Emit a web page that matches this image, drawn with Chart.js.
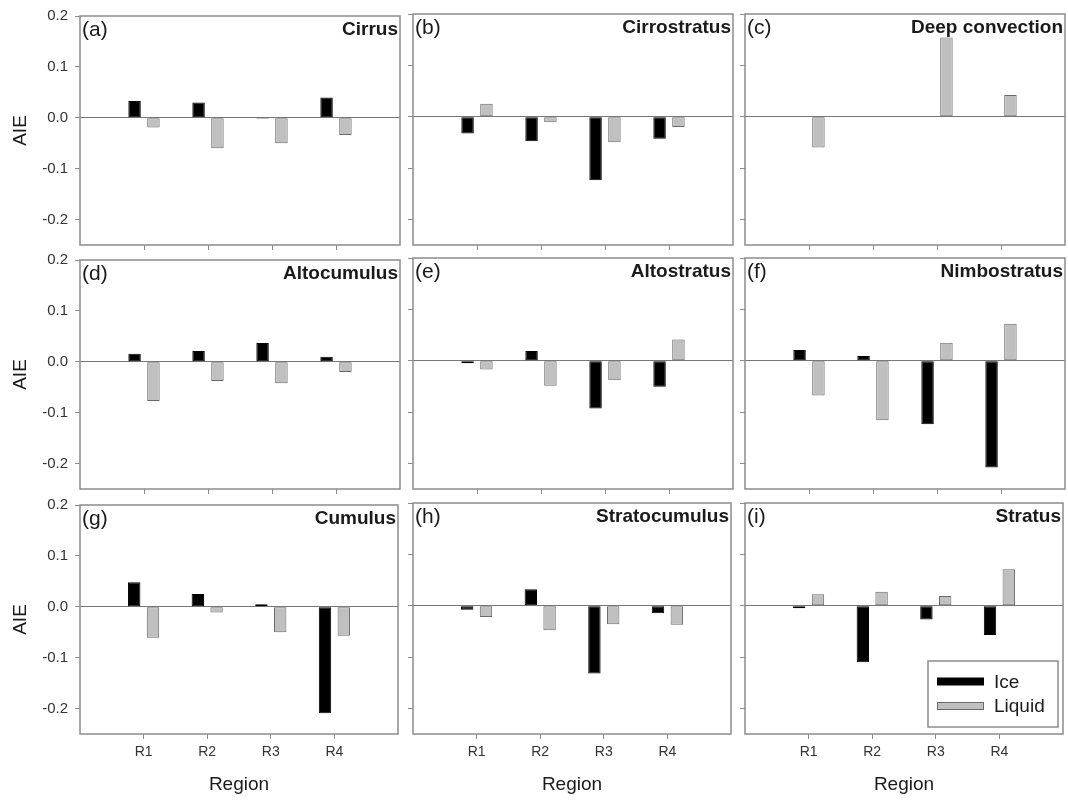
<!DOCTYPE html>
<html lang="en">
<head>
<meta charset="UTF-8">
<title>AIE by cloud type</title>
<script src="https://cdn.jsdelivr.net/npm/chart.js@4.4.0/dist/chart.umd.min.js"></script>
<style>
  body { margin: 0; background: #fff; }
  #wrap { position: relative; width: 1068px; height: 800px; }
  #wrap canvas { position: absolute; }
</style>
</head>
<body>
<div id="wrap"></div>
<script>
const regions = ['R1', 'R2', 'R3', 'R4'];
const panelTags = ['(a)', '(b)', '(c)', '(d)', '(e)', '(f)', '(g)', '(h)', '(i)'];
const cloudTypes = ['Cirrus', 'Cirrostratus', 'Deep convection',
                    'Altocumulus', 'Altostratus', 'Nimbostratus',
                    'Cumulus', 'Stratocumulus', 'Stratus'];

// one row per cloud type, values for R1..R4
const iceAIE = [
  [0.033, 0.030, -0.002, 0.040],
  [-0.033, -0.048, -0.124, -0.043],
  [null, null, null, null],
  [0.016, 0.021, 0.037, 0.010],
  [-0.005, 0.019, -0.093, -0.051],
  [0.021, 0.009, -0.124, -0.208],
  [0.048, 0.025, 0.005, -0.209],
  [-0.008, 0.032, -0.132, -0.015],
  [-0.005, -0.110, -0.027, -0.057]
];
const liquidAIE = [
  [-0.019, -0.060, -0.050, -0.034],
  [0.025, -0.011, -0.050, -0.020],
  [-0.060, null, 0.154, 0.042],
  [-0.077, -0.038, -0.042, -0.020],
  [-0.017, -0.049, -0.038, 0.041],
  [-0.068, -0.116, 0.035, 0.072],
  [-0.061, -0.011, -0.050, -0.057],
  [-0.022, -0.048, -0.036, -0.037],
  [0.022, 0.027, 0.019, 0.071]
];
const yTicks = [-0.2, -0.1, 0, 0.1, 0.2];

const FONT = '"Liberation Sans", Arial, sans-serif';
const colLeft = [80, 413, 745];
const rowTop = [14, 258, 503];
const plotW = 320, plotH = 231;
const AXIS_W = 80, AXIS_H = 66, PAD_TOP = 14;
const wrap = document.getElementById('wrap');

function framePlugin(tag, name) {
  return {
    id: 'frame',
    afterDatasetsDraw(chart) {
      const { ctx, chartArea: a } = chart;
      ctx.save();
      ctx.strokeStyle = '#8c8c8c';
      ctx.lineWidth = 1.5;
      ctx.strokeRect(a.left, a.top, a.right - a.left, a.bottom - a.top);
      ctx.fillStyle = '#1a1a1a';
      ctx.textBaseline = 'alphabetic';
      ctx.font = '21px ' + FONT;
      ctx.textAlign = 'left';
      ctx.fillText(tag, a.left + 2, a.top + 20);
      ctx.font = 'bold 19px ' + FONT;
      ctx.textAlign = 'right';
      ctx.fillText(name, a.right - 2, a.top + 19);
      ctx.restore();
    }
  };
}

// legend box inside the last panel
const legendPlugin = {
  id: 'boxLegend',
  afterDatasetsDraw(chart) {
    const { ctx, chartArea: a } = chart;
    ctx.save();
    ctx.strokeStyle = '#8c8c8c';
    ctx.lineWidth = 1.5;
    ctx.strokeRect(a.left + 183, a.top + 158, 130, 66);
    ctx.font = '19px ' + FONT;
    ctx.textBaseline = 'middle';
    ctx.textAlign = 'left';
    chart.data.datasets.forEach((ds, k) => {
      const cy = a.top + 178.5 + k * 24.5;
      ctx.fillStyle = ds.backgroundColor;
      ctx.strokeStyle = ds.borderColor;
      ctx.lineWidth = 1;
      ctx.fillRect(a.left + 192, cy - 3.5, 47, 7);
      ctx.strokeRect(a.left + 192.5, cy - 3.5, 46, 7);
      ctx.fillStyle = '#1a1a1a';
      ctx.fillText(ds.label, a.left + 249, cy + 1);
    });
    ctx.restore();
  }
};

cloudTypes.forEach((name, i) => {
  const row = Math.floor(i / 3), col = i % 3;
  const canvas = document.createElement('canvas');
  canvas.width = AXIS_W + plotW + 3;
  canvas.height = PAD_TOP + plotH + AXIS_H;
  canvas.style.left = (colLeft[col] - AXIS_W) + 'px';
  canvas.style.top = (rowTop[row] - PAD_TOP) + 'px';
  wrap.appendChild(canvas);

  const plugins = [framePlugin(panelTags[i], name)];
  if (i === 8) plugins.push(legendPlugin);

  new Chart(canvas, {
    type: 'bar',
    data: {
      labels: ['', ...regions, ''],
      datasets: [{
        label: 'Ice',
        data: [null, ...iceAIE[i], null],
        backgroundColor: '#000000',
        borderColor: '#000000',
        borderWidth: 1,
        borderSkipped: false
      }, {
        label: 'Liquid',
        data: [null, ...liquidAIE[i], null],
        backgroundColor: '#c0c0c0',
        borderColor: '#6a6a6a',
        borderWidth: 1,
        borderSkipped: false
      }]
    },
    options: {
      responsive: false,
      animation: false,
      categoryPercentage: 0.59,
      barPercentage: 0.66,
      layout: { padding: { top: PAD_TOP, right: 3, left: 0, bottom: 0 } },
      plugins: { legend: { display: false }, tooltip: { enabled: false } },
      scales: {
        x: {
          type: 'category',
          offset: false,
          grid: {
            offset: false,
            drawOnChartArea: false,
            tickLength: 5,
            tickColor: c => (c.index === 0 || c.index === 5) ? 'transparent' : '#8c8c8c'
          },
          border: { display: false },
          ticks: {
            display: row === 2,
            color: '#333',
            font: { family: FONT, size: 14 },
            padding: 5,
            maxRotation: 0,
            autoSkip: false
          },
          title: {
            display: row === 2,
            text: 'Region',
            color: '#1a1a1a',
            font: { family: FONT, size: 19 },
            padding: { top: 0, bottom: 4 }
          },
          afterFit: s => { s.height = AXIS_H; }
        },
        y: {
          min: -0.25,
          max: 0.2,
          afterBuildTicks: s => { s.ticks = yTicks.map(v => ({ value: v })); },
          grid: {
            color: c => (c.tick && c.tick.value === 0) ? '#777777' : 'transparent',
            lineWidth: 1,
            tickLength: 5,
            tickColor: '#8c8c8c'
          },
          border: { display: false },
          ticks: {
            display: col === 0,
            color: '#333',
            font: { family: FONT, size: 15 },
            padding: 7,
            callback: v => v.toFixed(1)
          },
          title: {
            display: col === 0,
            text: 'AIE',
            color: '#1a1a1a',
            font: { family: FONT, size: 19 },
            padding: { top: 9, bottom: 0 }
          },
          afterFit: s => { s.width = AXIS_W; }
        }
      }
    },
    plugins: plugins
  });
});
</script>
</body>
</html>
